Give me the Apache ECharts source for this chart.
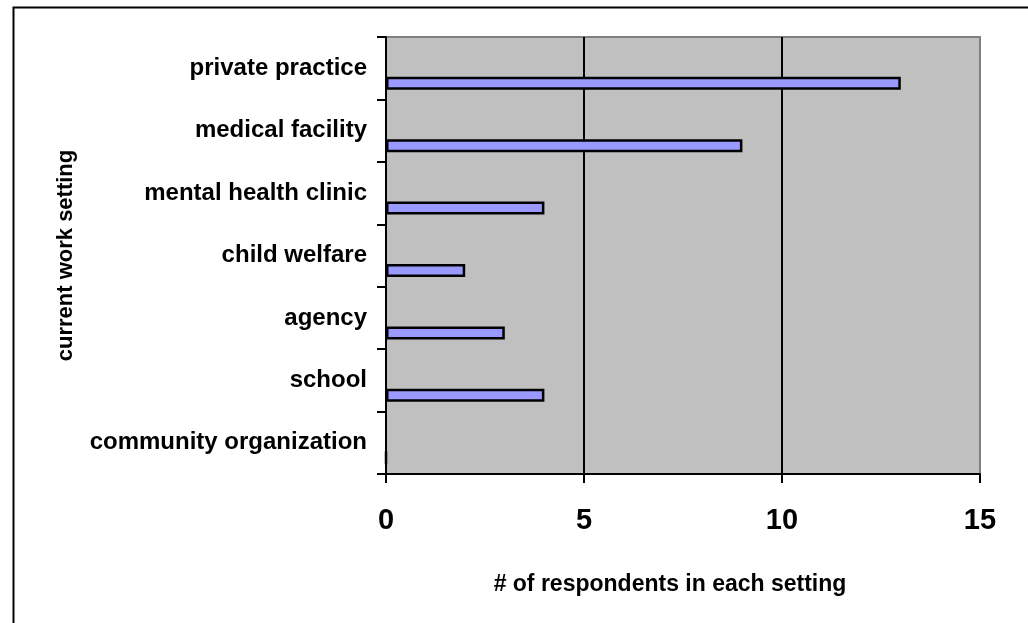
<!DOCTYPE html>
<html>
<head>
<meta charset="utf-8">
<script src="https://cdn.jsdelivr.net/npm/echarts@6/dist/echarts.min.js"></script>
<style>
  html, body { margin: 0; padding: 0; background: #ffffff; }
  #chart { width: 1028px; height: 623px; }
</style>
</head>
<body>
<div id="chart"></div>
<script>
// Work settings, listed top to bottom
const categories = [
  'private practice',
  'medical facility',
  'mental health clinic',
  'child welfare',
  'agency',
  'school',
  'community organization'
];
// Respondents per setting
const respondents = [13, 9, 4, 2, 3, 4, 0];
// Value-axis ticks
const xTicks = [0, 5, 10, 15];

const FONT = '"Liberation Sans", Arial, sans-serif';

const chart = echarts.init(document.getElementById('chart'), null, { renderer: 'canvas' });

chart.setOption({
  backgroundColor: '#ffffff',
  animation: false,
  graphic: [{
    type: 'rect',
    left: 11, top: 5,
    shape: { width: 2000, height: 2000 },
    style: { fill: 'none', stroke: '#000000', lineWidth: 2 },
    silent: true
  }],
  grid: {
    left: 386, right: 48, top: 37, bottom: 149,
    show: true,
    backgroundColor: '#c0c0c0',
    borderColor: '#808080',
    borderWidth: 2
  },
  xAxis: {
    type: 'value',
    min: xTicks[0],
    max: xTicks[xTicks.length - 1],
    interval: 5,
    axisLine: { show: true, lineStyle: { color: '#000000', width: 2 } },
    axisTick: { show: true, inside: false, length: 9, lineStyle: { color: '#000000', width: 2 } },
    splitLine: { show: true, lineStyle: { color: ['#000000', '#000000', '#000000', '#808080'], width: 2 } },
    axisLabel: {
      fontFamily: FONT, fontWeight: 'bold', fontSize: 29, color: '#000000', margin: 32
    },
    name: '# of respondents in each setting',
    nameLocation: 'middle',
    nameGap: 99,
    nameTextStyle: {
      fontFamily: FONT, fontWeight: 'bold', fontSize: 23, color: '#000000',
      padding: [0, 26, 0, 0]
    }
  },
  yAxis: {
    type: 'category',
    inverse: true,
    data: categories,
    axisLine: { show: true, lineStyle: { color: '#000000', width: 2 } },
    axisTick: { show: true, inside: false, length: 9, lineStyle: { color: '#000000', width: 2 } },
    splitLine: { show: false },
    axisLabel: {
      fontFamily: FONT, fontWeight: 'bold', fontSize: 24, color: '#000000', margin: 19
    },
    name: 'current work setting',
    nameLocation: 'middle',
    nameRotate: 90,
    nameGap: 309,
    nameTextStyle: { fontFamily: FONT, fontWeight: 'bold', fontSize: 22, color: '#000000' }
  },
  series: [
    {
      // empty companion series; keeps the bars in the lower half of each band
      name: 'spacer',
      type: 'bar',
      data: categories.map(() => null),
      barWidth: 13,
      barGap: '131%',
      itemStyle: { color: 'transparent' }
    },
    {
      name: 'respondents',
      type: 'bar',
      data: respondents,
      barWidth: 13,
      barGap: '131%',
      itemStyle: { color: '#9999ff', borderColor: '#000000', borderWidth: 2.5 }
    }
  ]
});
</script>
</body>
</html>
